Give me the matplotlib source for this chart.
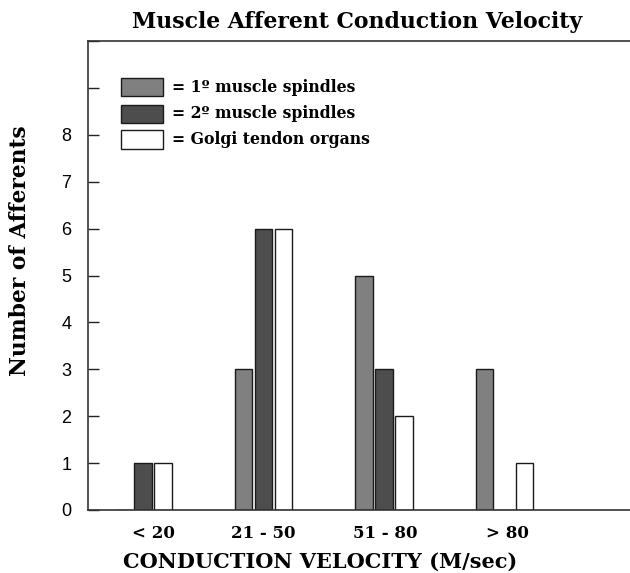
import matplotlib
matplotlib.use("Agg")
import matplotlib.pyplot as plt
from matplotlib.patches import Rectangle
import numpy as np

categories = ["< 20", "21 - 50", "51 - 80", "> 80"]
primary = [0, 3, 5, 3]
secondary = [1, 6, 3, 0]
golgi = [1, 6, 2, 1]
series_labels = ["= 1º muscle spindles", "= 2º muscle spindles", "= Golgi tendon organs"]
colors = ["#808080", "#4d4d4d", "#ffffff"]
ytick_vals = list(range(0, 11))
ytick_labels = ["0", "1", "2", "3", "4", "5", "6", "7", "8", "", ""]

fig = plt.figure(figsize=(6.3, 5.73), dpi=100)
ax = fig.add_axes([88/630, 1-510/573, 1-88/630, (510-41)/573])

serif = "DejaVu Serif"
sans = "Liberation Sans"

x = np.arange(len(categories))
step = 0.166
width = 0.145
for i, vals in enumerate([primary, secondary, golgi]):
    ax.bar(x + (i-1)*step, vals, width=width, color=colors[i], edgecolor="#1a1a1a", linewidth=1.0)

ax.set_xlim(-0.456, 4.04)
ax.set_ylim(0, 10)
ax.set_yticks(ytick_vals)
ax.set_yticklabels(ytick_labels, fontfamily=sans, fontsize=13)
ax.tick_params(axis="y", direction="in", length=8, width=1, pad=12, colors="#222222", labelcolor="black")
ax.set_xticks(x + np.array([0.09, 0.0, 0.01, 0.02]))
ax.set_xticklabels(categories, fontfamily=serif, fontweight="bold", fontsize=12)
ax.tick_params(axis="x", length=0, pad=11)

for s in ["left", "top", "bottom"]:
    ax.spines[s].set_linewidth(1.2)
    ax.spines[s].set_color("#333333")
ax.spines["right"].set_visible(False)

ax.set_xlabel("CONDUCTION VELOCITY (M/sec)", fontfamily=serif, fontweight="bold", fontsize=15)
ax.xaxis.set_label_coords((320-88)/542, -0.09)
fig.text(20/630, 1-251/573, "Number of Afferents", rotation=90, ha="center", va="center",
         fontfamily=serif, fontweight="bold", fontsize=15.7)
fig.text(357/630, 1-22/573, "Muscle Afferent Conduction Velocity", ha="center", va="center",
         fontfamily=serif, fontweight="bold", fontsize=15.8)

# legend drawn in figure pixel space
rows = [(78, 96), (105, 123), (130, 149)]
for (top, bot), c, lab in zip(rows, colors, series_labels):
    r = Rectangle((121/630, 1-bot/573), 42/630, (bot-top)/573, transform=fig.transFigure,
                  facecolor=c, edgecolor="#1a1a1a", linewidth=1.0)
    fig.patches.append(r)
    fig.text(172/630, 1-((top+bot)/2)/573, lab, ha="left", va="center",
             fontfamily=serif, fontweight="bold", fontsize=11.3)

fig.savefig("out.png", dpi=100)
